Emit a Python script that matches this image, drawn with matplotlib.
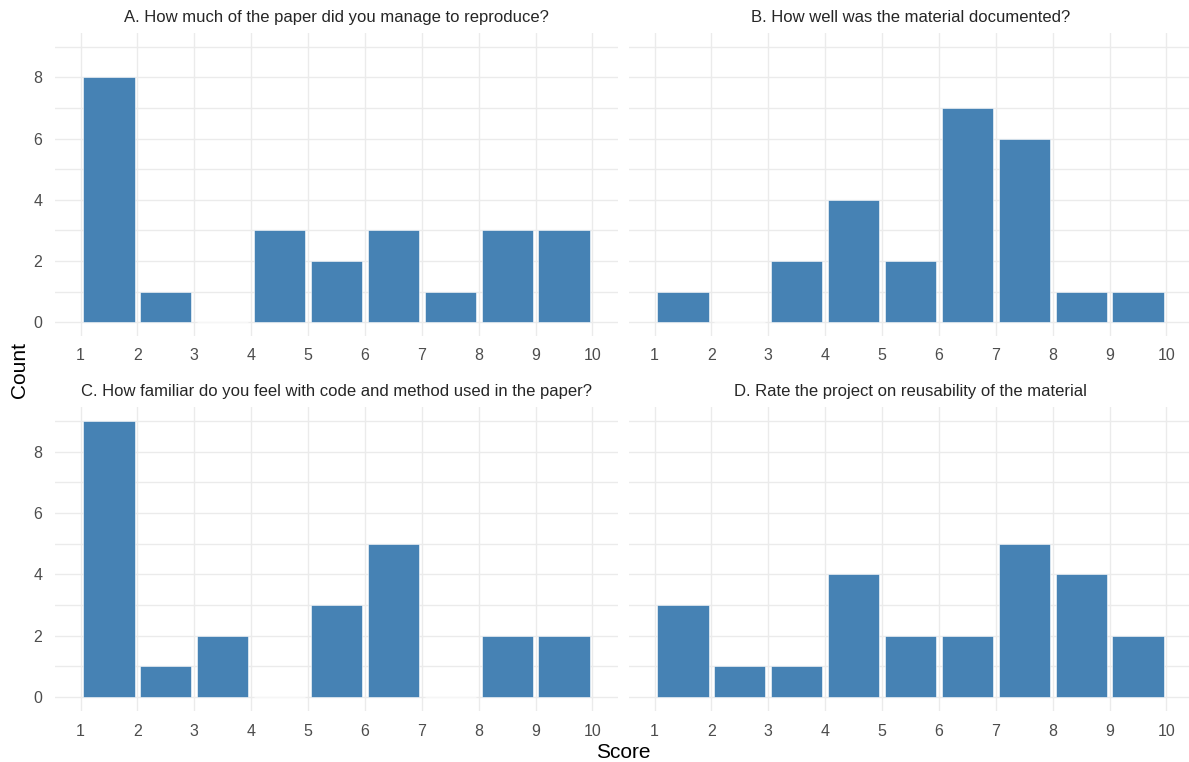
import numpy as np
import matplotlib
matplotlib.use("Agg")
import matplotlib.pyplot as plt

# ------------------------------------------------------------------
# Survey answers: counts per score bin [s, s+1)
# ------------------------------------------------------------------
bin_left = [1, 2, 3, 4, 5, 6, 7, 8, 9]

titles = [
    "A. How much of the paper did you manage to reproduce?",
    "B. How well was the material documented?",
    "C. How familiar do you feel with code and method used in the paper?",
    "D. Rate the project on reusability of the material",
]

counts_a = [8, 1, 0, 3, 2, 3, 1, 3, 3]
counts_b = [1, 0, 2, 4, 2, 7, 6, 1, 1]
counts_c = [9, 1, 2, 0, 3, 5, 0, 2, 2]
counts_d = [3, 1, 1, 4, 2, 2, 5, 4, 2]

x_ticks = list(range(1, 11))
y_ticks = [0, 2, 4, 6, 8]

BAR = "#4682B4"
GRID = "#EBEBEB"
TICK_COL = "#4D4D4D"

plt.rcParams["font.family"] = ["Liberation Sans", "DejaVu Sans"]

W, H = 1189, 762
fig = plt.figure(figsize=(W / 100, H / 100), dpi=100)

# panel boxes in pixels: (left, top, right, bottom)
boxes = [
    (55, 33, 618, 336),
    (629, 33, 1192, 336),
    (55, 407, 618, 711),
    (629, 407, 1192, 711),
]

all_counts = [counts_a, counts_b, counts_c, counts_d]
centers = np.array(bin_left) + 0.5

for i, (box, counts, title) in enumerate(zip(boxes, all_counts, titles)):
    l, t, r, b = box
    ax = fig.add_axes([l / W, (H - b) / H, (r - l) / W, (b - t) / H])
    ax.set_xlim(0.55, 10.45)
    ax.set_ylim(-0.45, 9.45)

    for y in range(0, 10):
        ax.axhline(y, color=GRID, linewidth=1.0, zorder=0)
    for x in x_ticks:
        ax.axvline(x, color=GRID, linewidth=1.0, zorder=0)

    ax.bar(centers, counts, width=0.9, color=BAR, edgecolor="white",
           linewidth=0.4, zorder=2)

    ax.set_xticks(x_ticks)
    ax.set_xticklabels([str(v) for v in x_ticks])
    ax.set_yticks(y_ticks)
    if i % 2 == 0:
        ax.set_yticklabels([str(v) for v in y_ticks])
    else:
        ax.set_yticklabels([])
    ax.tick_params(length=0, labelsize=11.5, colors=TICK_COL, pad=9)
    for s in ax.spines.values():
        s.set_visible(False)
    ax.set_title(title, fontsize=12, color="#262626", pad=8)

fig.text(20 / W, 1 - 370 / H, "Count", rotation=90, fontsize=15,
         ha="center", va="center", color="black")
fig.text(623 / W, 1 - 752 / H, "Score", fontsize=15,
         ha="center", va="center", color="black")

fig.savefig("out.png", dpi=100)
